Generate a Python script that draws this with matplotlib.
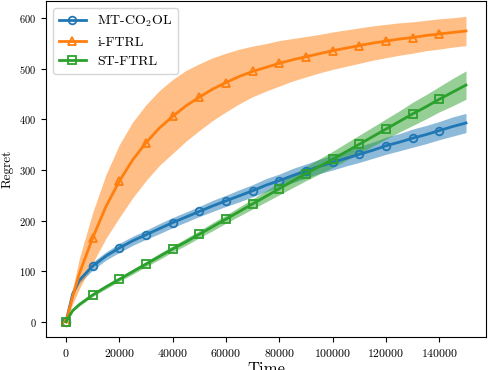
import numpy as np
import matplotlib
matplotlib.use("Agg")
import matplotlib.pyplot as plt

plt.rcParams['font.family'] = 'serif'
plt.rcParams['font.serif'] = ['cmr10']
plt.rcParams['mathtext.fontset'] = 'cm'
plt.rcParams['axes.formatter.use_mathtext'] = True

# time steps
time = [0, 2500, 5000, 10000, 15000, 20000, 25000, 30000, 35000, 40000, 45000,
        50000, 55000, 60000, 65000, 70000, 75000, 80000, 85000, 90000, 95000,
        100000, 105000, 110000, 115000, 120000, 125000, 130000, 135000, 140000,
        145000, 150000]

# mean regret per method
mt_mean = [0, 55, 82, 110, 130, 146, 160, 172, 184, 196, 207, 218, 229, 239, 249, 259,
           270, 279, 289, 298, 307, 315, 323, 331, 339, 348, 355, 363, 370, 378, 386, 393]
iftrl_mean = [0, 50, 95, 166, 228, 278, 320, 354, 383, 406, 427, 444, 460, 473, 485, 495,
              503, 511, 518, 524, 530, 536, 541, 546, 551, 555, 559, 562, 566, 569, 572, 575]
st_mean = [0, 22, 34, 53, 69, 84, 99, 114, 129, 144, 158, 173, 188, 203, 218, 233,
           248, 263, 278, 293, 307, 321, 336, 351, 366, 381, 396, 411, 425, 440, 454, 468]

# spread (half width of shaded band)
mt_std = [0, 4, 6, 8, 8, 9, 9, 9, 10, 10, 10, 10, 11, 11, 12, 12,
          13, 13, 14, 14, 14, 15, 15, 16, 16, 17, 17, 18, 18, 18, 19, 19]
iftrl_std = [0, 15, 30, 50, 63, 72, 75, 75, 74, 73, 70, 66, 62, 58, 54, 50,
             47, 45, 42, 40, 38, 37, 36, 35, 34, 33, 32, 31, 30, 30, 29, 29]
st_std = [0, 2, 3, 3, 4, 4, 5, 5, 6, 6, 7, 7, 8, 8, 9, 10,
          11, 12, 13, 14, 15, 16, 17, 18, 19, 20, 21, 23, 24, 25, 27, 28]

labels = [r'MT-CO$_2$OL', 'i-FTRL', 'ST-FTRL']
markers = ['o', '^', 's']
colors = ['tab:blue', 'tab:orange', 'tab:green']

t = np.array(time)
mark_idx = [i for i, v in enumerate(time) if v % 10000 == 0 and v < 150000]

fig = plt.figure(figsize=(4.88, 3.70), dpi=100)
ax = fig.add_axes([46 / 488, 33 / 370, 440 / 488, 336 / 370])

for mean, std, lab, mk, c in zip([mt_mean, iftrl_mean, st_mean],
                                 [mt_std, iftrl_std, st_std],
                                 labels, markers, colors):
    m = np.array(mean, dtype=float)
    s = np.array(std, dtype=float)
    ax.plot(t, m, color=c, marker=mk, markevery=mark_idx, markersize=5.5,
            markerfacecolor='none', markeredgewidth=1.3, linewidth=2, label=lab)
    ax.fill_between(t, m - s, m + s, color=c, alpha=0.5, linewidth=0)

ax.set_xticks(np.arange(0, 150001, 20000))
ax.tick_params(axis='x', labelsize=8.5)
ax.tick_params(axis='y', labelsize=7.5)
ax.set_xlabel('Time', fontsize=12, labelpad=2)
ax.set_ylabel('Regret', fontsize=9.5, labelpad=4)
ax.legend(loc='upper left', fontsize=10)

fig.savefig('out.png', dpi=100)
